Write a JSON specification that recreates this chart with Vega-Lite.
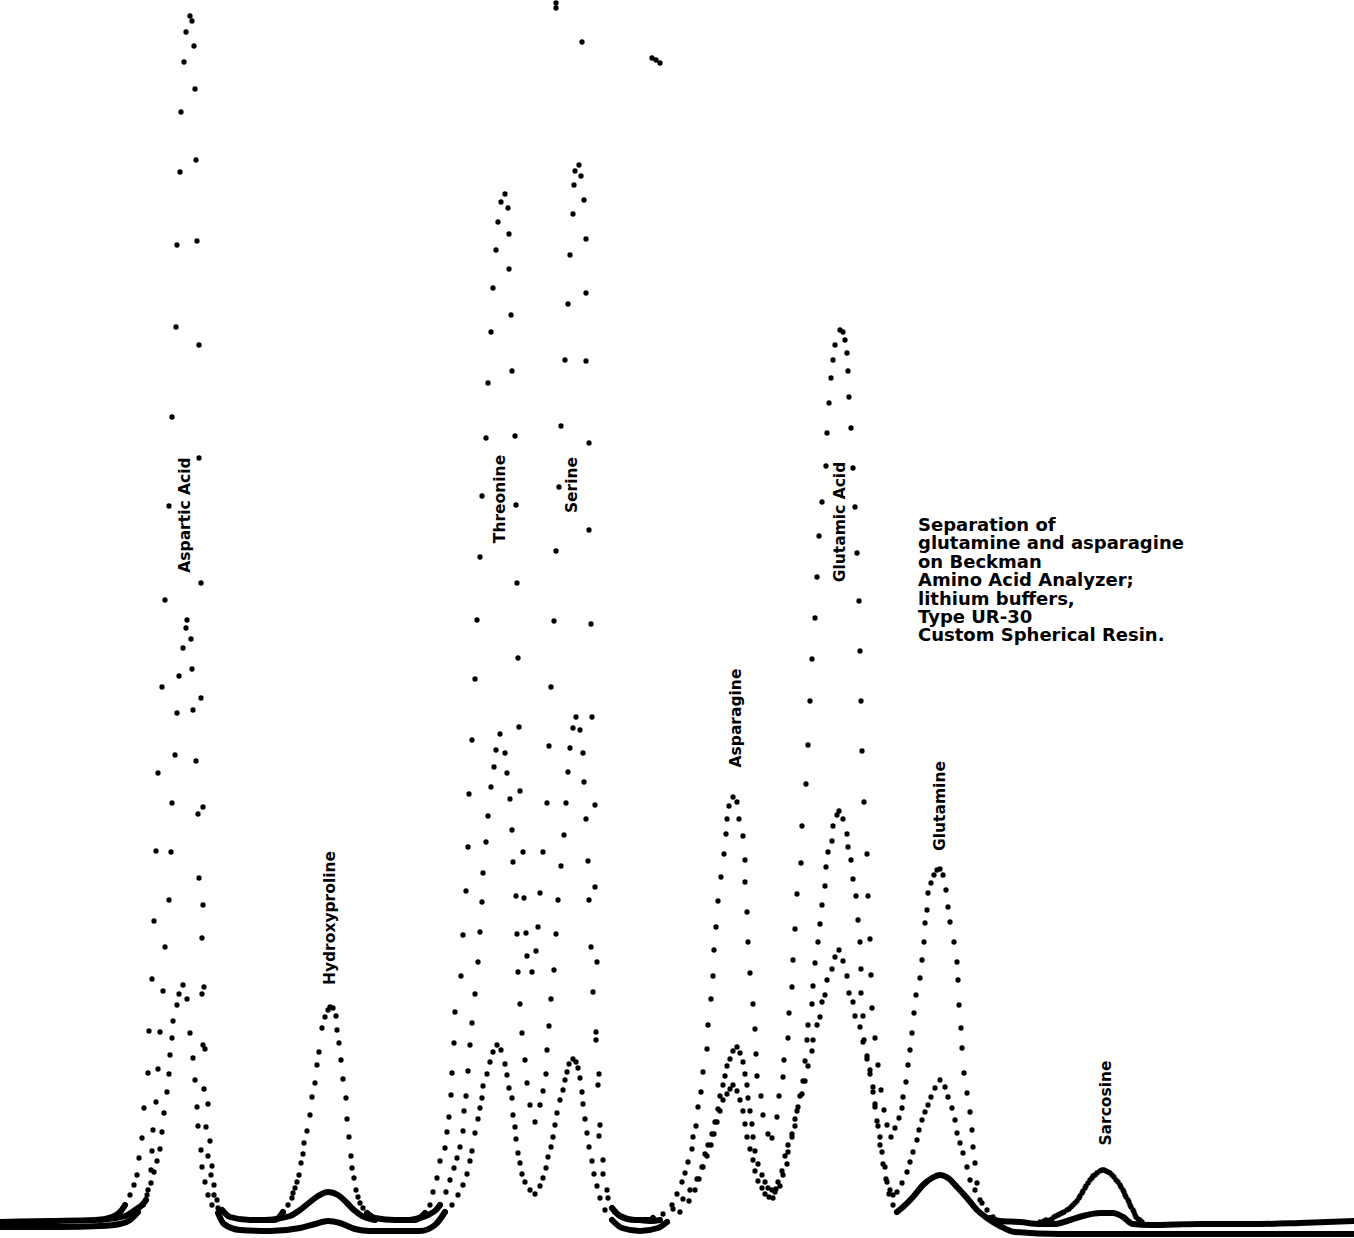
{
  "$schema": "https://vega.github.io/schema/vega-lite/v6.json",
  "width": 1354,
  "height": 1238,
  "autosize": {"type": "fit", "contains": "padding"},
  "padding": 0,
  "background": "white",
  "config": {"view": {"stroke": null}},
  "datasets": {
    "dots": [
      {"s":"A","t":125,"v":15},{"s":"A","t":130,"v":25},{"s":"A","t":134,"v":35},{"s":"A","t":137,"v":45},{"s":"A","t":139,"v":62},{"s":"A","t":142,"v":82},{"s":"A","t":144,"v":112},{"s":"A","t":148,"v":147},{"s":"A","t":149,"v":189},{"s":"A","t":152,"v":241},{"s":"A","t":154,"v":299},{"s":"A","t":156,"v":369},{"s":"A","t":158,"v":447},{"s":"A","t":162,"v":533},{"s":"A","t":165,"v":620},{"s":"A","t":169,"v":714},{"s":"A","t":172,"v":803},{"s":"A","t":176,"v":893},{"s":"A","t":177,"v":975},{"s":"A","t":180,"v":1048},{"s":"A","t":181,"v":1108},{"s":"A","t":184,"v":1158},{"s":"A","t":186,"v":1188},{"s":"A","t":190,"v":1204},{"s":"A","t":192,"v":1199},{"s":"A","t":194,"v":1174},{"s":"A","t":195,"v":1131},{"s":"A","t":196,"v":1060},{"s":"A","t":197,"v":979},{"s":"A","t":199,"v":875},{"s":"A","t":199,"v":762},{"s":"A","t":201,"v":637},{"s":"A","t":201,"v":522},{"s":"A","t":203,"v":413},{"s":"A","t":203,"v":315},{"s":"A","t":204,"v":233},{"s":"A","t":205,"v":171},{"s":"A","t":208,"v":116},{"s":"A","t":210,"v":79},{"s":"A","t":212,"v":54},{"s":"A","t":214,"v":35},{"s":"A","t":217,"v":20},{"s":"A","t":222,"v":10},{"s":"A","t":228,"v":4},
      {"s":"B","t":146,"v":20},{"s":"B","t":148,"v":30},{"s":"B","t":151,"v":50},{"s":"B","t":152,"v":69},{"s":"B","t":153,"v":90},{"s":"B","t":156,"v":118},{"s":"B","t":158,"v":151},{"s":"B","t":160,"v":188},{"s":"B","t":163,"v":229},{"s":"B","t":165,"v":273},{"s":"B","t":169,"v":320},{"s":"B","t":171,"v":368},{"s":"B","t":172,"v":417},{"s":"B","t":175,"v":465},{"s":"B","t":177,"v":507},{"s":"B","t":179,"v":544},{"s":"B","t":183,"v":572},{"s":"B","t":186,"v":592},{"s":"B","t":187,"v":600},{"s":"B","t":191,"v":581},{"s":"B","t":192,"v":551},{"s":"B","t":193,"v":510},{"s":"B","t":196,"v":459},{"s":"B","t":198,"v":406},{"s":"B","t":199,"v":342},{"s":"B","t":202,"v":282},{"s":"B","t":202,"v":226},{"s":"B","t":203,"v":175},{"s":"B","t":204,"v":131},{"s":"B","t":206,"v":93},{"s":"B","t":208,"v":64},{"s":"B","t":211,"v":45},{"s":"B","t":214,"v":25},{"s":"B","t":218,"v":12},
      {"s":"C","t":138,"v":8},{"s":"C","t":143,"v":15},{"s":"C","t":147,"v":25},{"s":"C","t":151,"v":37},{"s":"C","t":154,"v":48},{"s":"C","t":157,"v":59},{"s":"C","t":160,"v":71},{"s":"C","t":162,"v":88},{"s":"C","t":164,"v":107},{"s":"C","t":167,"v":128},{"s":"C","t":169,"v":146},{"s":"C","t":170,"v":165},{"s":"C","t":172,"v":182},{"s":"C","t":173,"v":199},{"s":"C","t":177,"v":215},{"s":"C","t":179,"v":226},{"s":"C","t":183,"v":235},{"s":"C","t":187,"v":221},{"s":"C","t":190,"v":187},{"s":"C","t":193,"v":162},{"s":"C","t":195,"v":140},{"s":"C","t":197,"v":113},{"s":"C","t":198,"v":94},{"s":"C","t":201,"v":70},{"s":"C","t":202,"v":53},{"s":"C","t":205,"v":38},{"s":"C","t":208,"v":25},{"s":"C","t":212,"v":15},{"s":"C","t":218,"v":7},
      {"s":"A","t":283,"v":8},{"s":"A","t":288,"v":15},{"s":"A","t":292,"v":22},{"s":"A","t":293,"v":27},{"s":"A","t":295,"v":32},{"s":"A","t":297,"v":38},{"s":"A","t":299,"v":45},{"s":"A","t":301,"v":57},{"s":"A","t":303,"v":66},{"s":"A","t":304,"v":77},{"s":"A","t":307,"v":89},{"s":"A","t":310,"v":105},{"s":"A","t":312,"v":123},{"s":"A","t":315,"v":137},{"s":"A","t":317,"v":155},{"s":"A","t":319,"v":168},{"s":"A","t":322,"v":192},{"s":"A","t":325,"v":203},{"s":"A","t":328,"v":210},{"s":"A","t":330,"v":213},{"s":"A","t":333,"v":212},{"s":"A","t":336,"v":204},{"s":"A","t":337,"v":190},{"s":"A","t":339,"v":177},{"s":"A","t":341,"v":160},{"s":"A","t":343,"v":141},{"s":"A","t":346,"v":122},{"s":"A","t":347,"v":101},{"s":"A","t":349,"v":83},{"s":"A","t":351,"v":64},{"s":"A","t":352,"v":52},{"s":"A","t":354,"v":42},{"s":"A","t":356,"v":30},{"s":"A","t":358,"v":23},{"s":"A","t":360,"v":17},{"s":"A","t":363,"v":12},{"s":"A","t":367,"v":7},
      {"s":"A","t":425,"v":7},{"s":"A","t":430,"v":15},{"s":"A","t":433,"v":28},{"s":"A","t":437,"v":42},{"s":"A","t":440,"v":59},{"s":"A","t":445,"v":72},{"s":"A","t":447,"v":88},{"s":"A","t":449,"v":103},{"s":"A","t":451,"v":125},{"s":"A","t":452,"v":147},{"s":"A","t":454,"v":177},{"s":"A","t":455,"v":208},{"s":"A","t":461,"v":244},{"s":"A","t":463,"v":285},{"s":"A","t":466,"v":329},{"s":"A","t":468,"v":373},{"s":"A","t":469,"v":426},{"s":"A","t":472,"v":480},{"s":"A","t":475,"v":541},{"s":"A","t":477,"v":600},{"s":"A","t":480,"v":663},{"s":"A","t":482,"v":724},{"s":"A","t":486,"v":782},{"s":"A","t":488,"v":837},{"s":"A","t":491,"v":888},{"s":"A","t":493,"v":932},{"s":"A","t":496,"v":970},{"s":"A","t":498,"v":998},{"s":"A","t":501,"v":1018},{"s":"A","t":505,"v":1026},{"s":"A","t":508,"v":1012},{"s":"A","t":509,"v":986},{"s":"A","t":509,"v":951},{"s":"A","t":511,"v":905},{"s":"A","t":512,"v":849},{"s":"A","t":515,"v":784},{"s":"A","t":516,"v":715},{"s":"A","t":517,"v":637},{"s":"A","t":518,"v":562},{"s":"A","t":519,"v":493},{"s":"A","t":520,"v":429},{"s":"A","t":523,"v":368},{"s":"A","t":524,"v":322},{"s":"A","t":526,"v":287},{"s":"A","t":527,"v":264},{"s":"A","t":532,"v":248},{"s":"A","t":536,"v":269},{"s":"A","t":538,"v":293},{"s":"A","t":540,"v":327},{"s":"A","t":543,"v":368},{"s":"A","t":547,"v":417},{"s":"A","t":549,"v":474},{"s":"A","t":551,"v":533},{"s":"A","t":554,"v":599},{"s":"A","t":556,"v":669},{"s":"A","t":559,"v":733},{"s":"A","t":561,"v":794},{"s":"A","t":565,"v":860},{"s":"A","t":568,"v":916},{"s":"A","t":570,"v":965},{"s":"A","t":573,"v":1006},{"s":"A","t":574,"v":1035},{"s":"A","t":575,"v":1049},{"s":"A","t":579,"v":1055},{"s":"A","t":581,"v":1044},{"s":"A","t":584,"v":1020},{"s":"A","t":586,"v":981},{"s":"A","t":586,"v":927},{"s":"A","t":586,"v":859},{"s":"A","t":589,"v":777},{"s":"A","t":589,"v":690},{"s":"A","t":591,"v":596},{"s":"A","t":592,"v":503},{"s":"A","t":595,"v":415},{"s":"A","t":595,"v":333},{"s":"A","t":597,"v":258},{"s":"A","t":596,"v":188},{"s":"A","t":599,"v":146},{"s":"A","t":599,"v":84},{"s":"A","t":603,"v":46},{"s":"A","t":608,"v":22},{"s":"A","t":615,"v":8},
      {"s":"B","t":440,"v":15},{"s":"B","t":446,"v":28},{"s":"B","t":450,"v":40},{"s":"B","t":454,"v":52},{"s":"B","t":457,"v":62},{"s":"B","t":460,"v":73},{"s":"B","t":463,"v":89},{"s":"B","t":464,"v":109},{"s":"B","t":466,"v":124},{"s":"B","t":468,"v":149},{"s":"B","t":470,"v":175},{"s":"B","t":472,"v":197},{"s":"B","t":475,"v":226},{"s":"B","t":478,"v":258},{"s":"B","t":480,"v":288},{"s":"B","t":482,"v":318},{"s":"B","t":483,"v":347},{"s":"B","t":486,"v":378},{"s":"B","t":488,"v":404},{"s":"B","t":491,"v":433},{"s":"B","t":494,"v":453},{"s":"B","t":496,"v":470},{"s":"B","t":500,"v":486},{"s":"B","t":505,"v":467},{"s":"B","t":507,"v":447},{"s":"B","t":510,"v":421},{"s":"B","t":512,"v":390},{"s":"B","t":513,"v":358},{"s":"B","t":516,"v":324},{"s":"B","t":517,"v":286},{"s":"B","t":518,"v":248},{"s":"B","t":520,"v":216},{"s":"B","t":522,"v":187},{"s":"B","t":525,"v":160},{"s":"B","t":527,"v":137},{"s":"B","t":530,"v":115},{"s":"B","t":535,"v":98},{"s":"B","t":540,"v":115},{"s":"B","t":543,"v":129},{"s":"B","t":546,"v":146},{"s":"B","t":547,"v":170},{"s":"B","t":549,"v":194},{"s":"B","t":551,"v":221},{"s":"B","t":554,"v":250},{"s":"B","t":556,"v":286},{"s":"B","t":558,"v":320},{"s":"B","t":561,"v":354},{"s":"B","t":564,"v":385},{"s":"B","t":566,"v":417},{"s":"B","t":568,"v":448},{"s":"B","t":570,"v":472},{"s":"B","t":573,"v":492},{"s":"B","t":576,"v":503},{"s":"B","t":580,"v":490},{"s":"B","t":583,"v":467},{"s":"B","t":584,"v":438},{"s":"B","t":586,"v":401},{"s":"B","t":588,"v":359},{"s":"B","t":589,"v":320},{"s":"B","t":591,"v":273},{"s":"B","t":593,"v":228},{"s":"B","t":596,"v":180},{"s":"B","t":598,"v":135},{"s":"B","t":600,"v":95},{"s":"B","t":603,"v":60},{"s":"B","t":607,"v":30},{"s":"B","t":612,"v":12},
      {"s":"C","t":445,"v":8},{"s":"C","t":452,"v":15},{"s":"C","t":458,"v":25},{"s":"C","t":463,"v":35},{"s":"C","t":467,"v":46},{"s":"C","t":470,"v":59},{"s":"C","t":472,"v":69},{"s":"C","t":475,"v":87},{"s":"C","t":478,"v":101},{"s":"C","t":480,"v":112},{"s":"C","t":482,"v":122},{"s":"C","t":483,"v":134},{"s":"C","t":487,"v":146},{"s":"C","t":490,"v":158},{"s":"C","t":493,"v":168},{"s":"C","t":497,"v":175},{"s":"C","t":501,"v":170},{"s":"C","t":505,"v":156},{"s":"C","t":507,"v":145},{"s":"C","t":509,"v":132},{"s":"C","t":512,"v":122},{"s":"C","t":513,"v":105},{"s":"C","t":515,"v":93},{"s":"C","t":516,"v":81},{"s":"C","t":518,"v":67},{"s":"C","t":520,"v":57},{"s":"C","t":522,"v":46},{"s":"C","t":525,"v":38},{"s":"C","t":530,"v":30},{"s":"C","t":535,"v":26},{"s":"C","t":540,"v":34},{"s":"C","t":543,"v":42},{"s":"C","t":546,"v":52},{"s":"C","t":548,"v":63},{"s":"C","t":551,"v":73},{"s":"C","t":553,"v":83},{"s":"C","t":555,"v":95},{"s":"C","t":557,"v":107},{"s":"C","t":560,"v":120},{"s":"C","t":563,"v":130},{"s":"C","t":565,"v":140},{"s":"C","t":567,"v":148},{"s":"C","t":569,"v":156},{"s":"C","t":573,"v":161},{"s":"C","t":576,"v":158},{"s":"C","t":578,"v":152},{"s":"C","t":580,"v":142},{"s":"C","t":582,"v":128},{"s":"C","t":583,"v":116},{"s":"C","t":585,"v":101},{"s":"C","t":587,"v":87},{"s":"C","t":589,"v":73},{"s":"C","t":592,"v":59},{"s":"C","t":594,"v":46},{"s":"C","t":597,"v":34},{"s":"C","t":600,"v":22},{"s":"C","t":605,"v":10},{"s":"C","t":612,"v":0},
      {"s":"A","t":653,"v":2},{"s":"A","t":663,"v":6},{"s":"A","t":672,"v":15},{"s":"A","t":677,"v":26},{"s":"A","t":682,"v":38},{"s":"A","t":685,"v":47},{"s":"A","t":688,"v":58},{"s":"A","t":692,"v":71},{"s":"A","t":693,"v":83},{"s":"A","t":696,"v":94},{"s":"A","t":698,"v":113},{"s":"A","t":701,"v":128},{"s":"A","t":703,"v":148},{"s":"A","t":707,"v":171},{"s":"A","t":708,"v":195},{"s":"A","t":711,"v":221},{"s":"A","t":713,"v":244},{"s":"A","t":714,"v":270},{"s":"A","t":716,"v":293},{"s":"A","t":718,"v":319},{"s":"A","t":721,"v":343},{"s":"A","t":724,"v":366},{"s":"A","t":726,"v":386},{"s":"A","t":727,"v":401},{"s":"A","t":729,"v":414},{"s":"A","t":733,"v":423},{"s":"A","t":737,"v":418},{"s":"A","t":739,"v":401},{"s":"A","t":743,"v":384},{"s":"A","t":745,"v":360},{"s":"A","t":745,"v":338},{"s":"A","t":747,"v":308},{"s":"A","t":748,"v":278},{"s":"A","t":750,"v":247},{"s":"A","t":753,"v":216},{"s":"A","t":755,"v":191},{"s":"A","t":756,"v":166},{"s":"A","t":757,"v":144},{"s":"A","t":761,"v":124},{"s":"A","t":763,"v":105},{"s":"A","t":768,"v":86},{"s":"A","t":772,"v":82},{"s":"A","t":777,"v":103},{"s":"A","t":779,"v":124},{"s":"A","t":783,"v":143},{"s":"A","t":784,"v":160},{"s":"A","t":788,"v":182},{"s":"A","t":789,"v":207},{"s":"A","t":792,"v":233},{"s":"A","t":793,"v":260},{"s":"A","t":795,"v":291},{"s":"A","t":797,"v":326},{"s":"A","t":801,"v":357},{"s":"A","t":802,"v":394},{"s":"A","t":806,"v":436},{"s":"A","t":808,"v":475},{"s":"A","t":810,"v":519},{"s":"A","t":812,"v":561},{"s":"A","t":815,"v":602},{"s":"A","t":817,"v":643},{"s":"A","t":819,"v":684},{"s":"A","t":822,"v":718},{"s":"A","t":826,"v":754},{"s":"A","t":827,"v":787},{"s":"A","t":829,"v":817},{"s":"A","t":831,"v":842},{"s":"A","t":833,"v":860},{"s":"A","t":835,"v":875},{"s":"A","t":840,"v":890},{"s":"A","t":843,"v":888},{"s":"A","t":845,"v":880},{"s":"A","t":847,"v":867},{"s":"A","t":848,"v":849},{"s":"A","t":849,"v":823},{"s":"A","t":851,"v":792},{"s":"A","t":853,"v":752},{"s":"A","t":855,"v":713},{"s":"A","t":857,"v":667},{"s":"A","t":859,"v":619},{"s":"A","t":860,"v":569},{"s":"A","t":861,"v":519},{"s":"A","t":862,"v":469},{"s":"A","t":864,"v":418},{"s":"A","t":867,"v":366},{"s":"A","t":868,"v":324},{"s":"A","t":870,"v":281},{"s":"A","t":871,"v":245},{"s":"A","t":872,"v":212},{"s":"A","t":875,"v":182},{"s":"A","t":878,"v":155},{"s":"A","t":881,"v":130},{"s":"A","t":884,"v":110},{"s":"A","t":887,"v":95},{"s":"A","t":891,"v":83},{"s":"A","t":895,"v":92},{"s":"A","t":899,"v":102},{"s":"A","t":902,"v":112},{"s":"A","t":903,"v":123},{"s":"A","t":906,"v":138},{"s":"A","t":908,"v":155},{"s":"A","t":910,"v":170},{"s":"A","t":912,"v":187},{"s":"A","t":914,"v":207},{"s":"A","t":916,"v":225},{"s":"A","t":920,"v":242},{"s":"A","t":922,"v":260},{"s":"A","t":924,"v":278},{"s":"A","t":925,"v":297},{"s":"A","t":927,"v":310},{"s":"A","t":928,"v":327},{"s":"A","t":931,"v":337},{"s":"A","t":934,"v":345},{"s":"A","t":937,"v":350},{"s":"A","t":940,"v":351},{"s":"A","t":943,"v":345},{"s":"A","t":946,"v":330},{"s":"A","t":948,"v":313},{"s":"A","t":950,"v":298},{"s":"A","t":954,"v":278},{"s":"A","t":957,"v":258},{"s":"A","t":958,"v":240},{"s":"A","t":959,"v":215},{"s":"A","t":961,"v":192},{"s":"A","t":962,"v":172},{"s":"A","t":964,"v":147},{"s":"A","t":967,"v":127},{"s":"A","t":970,"v":108},{"s":"A","t":972,"v":90},{"s":"A","t":973,"v":73},{"s":"A","t":975,"v":57},{"s":"A","t":977,"v":37},{"s":"A","t":982,"v":17},{"s":"A","t":990,"v":2},
      {"s":"B","t":660,"v":0},{"s":"B","t":673,"v":11},{"s":"B","t":683,"v":21},{"s":"B","t":690,"v":30},{"s":"B","t":697,"v":41},{"s":"B","t":702,"v":53},{"s":"B","t":705,"v":66},{"s":"B","t":708,"v":75},{"s":"B","t":712,"v":86},{"s":"B","t":715,"v":98},{"s":"B","t":718,"v":111},{"s":"B","t":720,"v":124},{"s":"B","t":723,"v":135},{"s":"B","t":725,"v":144},{"s":"B","t":727,"v":154},{"s":"B","t":730,"v":161},{"s":"B","t":733,"v":169},{"s":"B","t":737,"v":173},{"s":"B","t":740,"v":167},{"s":"B","t":743,"v":158},{"s":"B","t":745,"v":146},{"s":"B","t":747,"v":135},{"s":"B","t":748,"v":122},{"s":"B","t":750,"v":109},{"s":"B","t":752,"v":96},{"s":"B","t":753,"v":83},{"s":"B","t":755,"v":69},{"s":"B","t":758,"v":56},{"s":"B","t":762,"v":45},{"s":"B","t":765,"v":38},{"s":"B","t":768,"v":32},{"s":"B","t":772,"v":30},{"s":"B","t":776,"v":31},{"s":"B","t":780,"v":34},{"s":"B","t":783,"v":45},{"s":"B","t":787,"v":56},{"s":"B","t":788,"v":68},{"s":"B","t":792,"v":83},{"s":"B","t":795,"v":94},{"s":"B","t":797,"v":109},{"s":"B","t":800,"v":124},{"s":"B","t":803,"v":139},{"s":"B","t":805,"v":159},{"s":"B","t":807,"v":180},{"s":"B","t":808,"v":195},{"s":"B","t":812,"v":216},{"s":"B","t":813,"v":234},{"s":"B","t":815,"v":257},{"s":"B","t":818,"v":278},{"s":"B","t":820,"v":296},{"s":"B","t":822,"v":315},{"s":"B","t":825,"v":334},{"s":"B","t":826,"v":353},{"s":"B","t":828,"v":368},{"s":"B","t":832,"v":379},{"s":"B","t":833,"v":394},{"s":"B","t":837,"v":405},{"s":"B","t":839,"v":409},{"s":"B","t":843,"v":401},{"s":"B","t":847,"v":386},{"s":"B","t":848,"v":373},{"s":"B","t":851,"v":360},{"s":"B","t":853,"v":341},{"s":"B","t":856,"v":324},{"s":"B","t":858,"v":300},{"s":"B","t":860,"v":278},{"s":"B","t":861,"v":251},{"s":"B","t":861,"v":227},{"s":"B","t":863,"v":204},{"s":"B","t":864,"v":180},{"s":"B","t":867,"v":164},{"s":"B","t":870,"v":150},{"s":"B","t":873,"v":133},{"s":"B","t":875,"v":116},{"s":"B","t":877,"v":99},{"s":"B","t":880,"v":83},{"s":"B","t":882,"v":68},{"s":"B","t":885,"v":53},{"s":"B","t":887,"v":38},{"s":"B","t":890,"v":30},{"s":"B","t":893,"v":25},{"s":"B","t":897,"v":28},{"s":"B","t":902,"v":37},{"s":"B","t":907,"v":48},{"s":"B","t":910,"v":58},{"s":"B","t":913,"v":68},{"s":"B","t":917,"v":80},{"s":"B","t":919,"v":90},{"s":"B","t":922,"v":100},{"s":"B","t":925,"v":108},{"s":"B","t":928,"v":115},{"s":"B","t":931,"v":123},{"s":"B","t":935,"v":132},{"s":"B","t":940,"v":140},{"s":"B","t":945,"v":133},{"s":"B","t":948,"v":123},{"s":"B","t":952,"v":112},{"s":"B","t":955,"v":100},{"s":"B","t":957,"v":87},{"s":"B","t":960,"v":77},{"s":"B","t":963,"v":67},{"s":"B","t":967,"v":53},{"s":"B","t":970,"v":40},{"s":"B","t":975,"v":30},{"s":"B","t":980,"v":20},{"s":"B","t":987,"v":10},{"s":"B","t":993,"v":3},
      {"s":"C","t":667,"v":-2},{"s":"C","t":680,"v":8},{"s":"C","t":689,"v":19},{"s":"C","t":695,"v":30},{"s":"C","t":699,"v":41},{"s":"C","t":703,"v":53},{"s":"C","t":707,"v":64},{"s":"C","t":711,"v":75},{"s":"C","t":714,"v":86},{"s":"C","t":717,"v":98},{"s":"C","t":720,"v":109},{"s":"C","t":723,"v":120},{"s":"C","t":727,"v":126},{"s":"C","t":730,"v":131},{"s":"C","t":733,"v":135},{"s":"C","t":737,"v":129},{"s":"C","t":740,"v":120},{"s":"C","t":743,"v":109},{"s":"C","t":745,"v":96},{"s":"C","t":747,"v":83},{"s":"C","t":750,"v":71},{"s":"C","t":753,"v":60},{"s":"C","t":755,"v":49},{"s":"C","t":758,"v":39},{"s":"C","t":762,"v":32},{"s":"C","t":765,"v":26},{"s":"C","t":769,"v":23},{"s":"C","t":773,"v":22},{"s":"C","t":775,"v":28},{"s":"C","t":778,"v":38},{"s":"C","t":782,"v":49},{"s":"C","t":785,"v":64},{"s":"C","t":788,"v":75},{"s":"C","t":792,"v":86},{"s":"C","t":795,"v":101},{"s":"C","t":798,"v":113},{"s":"C","t":802,"v":126},{"s":"C","t":805,"v":139},{"s":"C","t":808,"v":154},{"s":"C","t":812,"v":169},{"s":"C","t":813,"v":180},{"s":"C","t":817,"v":195},{"s":"C","t":820,"v":203},{"s":"C","t":822,"v":218},{"s":"C","t":825,"v":225},{"s":"C","t":827,"v":240},{"s":"C","t":832,"v":251},{"s":"C","t":835,"v":263},{"s":"C","t":839,"v":270},{"s":"C","t":843,"v":259},{"s":"C","t":847,"v":244},{"s":"C","t":849,"v":227},{"s":"C","t":853,"v":218},{"s":"C","t":855,"v":204},{"s":"C","t":860,"v":193},{"s":"C","t":863,"v":178},{"s":"C","t":867,"v":161},{"s":"C","t":870,"v":146},{"s":"C","t":873,"v":128},{"s":"C","t":875,"v":113},{"s":"C","t":878,"v":94},{"s":"C","t":880,"v":75},{"s":"C","t":883,"v":56},{"s":"C","t":886,"v":41},{"s":"C","t":889,"v":26},{"s":"C","t":893,"v":15},{"s":"C","t":897,"v":8},
      {"s":"A","t":1040,"v":-2},{"s":"A","t":1044,"v":-1},{"s":"A","t":1046,"v":0},{"s":"A","t":1050,"v":0},{"s":"A","t":1052,"v":1},{"s":"A","t":1054,"v":3},{"s":"A","t":1056,"v":4},{"s":"A","t":1058,"v":5},{"s":"A","t":1060,"v":6},{"s":"A","t":1062,"v":7},{"s":"A","t":1064,"v":8},{"s":"A","t":1067,"v":10},{"s":"A","t":1069,"v":11},{"s":"A","t":1071,"v":13},{"s":"A","t":1073,"v":15},{"s":"A","t":1075,"v":17},{"s":"A","t":1077,"v":19},{"s":"A","t":1079,"v":22},{"s":"A","t":1080,"v":24},{"s":"A","t":1082,"v":27},{"s":"A","t":1083,"v":29},{"s":"A","t":1085,"v":32},{"s":"A","t":1086,"v":34},{"s":"A","t":1088,"v":37},{"s":"A","t":1090,"v":40},{"s":"A","t":1092,"v":42},{"s":"A","t":1093,"v":44},{"s":"A","t":1095,"v":45},{"s":"A","t":1097,"v":47},{"s":"A","t":1100,"v":49},{"s":"A","t":1102,"v":50},{"s":"A","t":1104,"v":50},{"s":"A","t":1106,"v":49},{"s":"A","t":1108,"v":48},{"s":"A","t":1110,"v":47},{"s":"A","t":1112,"v":45},{"s":"A","t":1114,"v":43},{"s":"A","t":1116,"v":40},{"s":"A","t":1118,"v":38},{"s":"A","t":1120,"v":35},{"s":"A","t":1121,"v":33},{"s":"A","t":1123,"v":30},{"s":"A","t":1124,"v":28},{"s":"A","t":1125,"v":25},{"s":"A","t":1126,"v":23},{"s":"A","t":1128,"v":20},{"s":"A","t":1129,"v":18},{"s":"A","t":1130,"v":15},{"s":"A","t":1131,"v":13},{"s":"A","t":1133,"v":10},{"s":"A","t":1134,"v":8},{"s":"A","t":1135,"v":5},{"s":"A","t":1136,"v":3},{"s":"A","t":1138,"v":1},{"s":"A","t":1140,"v":0},{"s":"A","t":1142,"v":-2},
      {"s":"x","t":556,"v":1217},{"s":"x","t":556,"v":1212},{"s":"x","t":582,"v":1178},{"s":"x","t":652,"v":1162},{"s":"x","t":656,"v":1160},{"s":"x","t":660,"v":1157}
    ],
    "bands": [
      {"seg":"U1","t":0,"v":-2},{"seg":"U1","t":50,"v":-1},{"seg":"U1","t":95,"v":0},{"seg":"U1","t":112,"v":3},{"seg":"U1","t":120,"v":8},{"seg":"U1","t":125,"v":15},
      {"seg":"U1b","t":100,"v":0},{"seg":"U1b","t":125,"v":4},{"seg":"U1b","t":135,"v":10},{"seg":"U1b","t":143,"v":16},{"seg":"U1b","t":146,"v":20},
      {"seg":"L1","t":0,"v":-7},{"seg":"L1","t":60,"v":-7},{"seg":"L1","t":100,"v":-6},{"seg":"L1","t":120,"v":-4},{"seg":"L1","t":130,"v":0},{"seg":"L1","t":138,"v":8},
      {"seg":"U2","t":222,"v":10},{"seg":"U2","t":230,"v":3},{"seg":"U2","t":250,"v":0},{"seg":"U2","t":275,"v":0},{"seg":"U2","t":283,"v":8},
      {"seg":"HB","t":265,"v":0},{"seg":"HB","t":290,"v":4},{"seg":"HB","t":300,"v":10},{"seg":"HB","t":310,"v":18},{"seg":"HB","t":318,"v":24},{"seg":"HB","t":328,"v":28},{"seg":"HB","t":338,"v":25},{"seg":"HB","t":346,"v":18},{"seg":"HB","t":354,"v":10},{"seg":"HB","t":362,"v":4},{"seg":"HB","t":375,"v":0},
      {"seg":"U3","t":367,"v":7},{"seg":"U3","t":375,"v":2},{"seg":"U3","t":395,"v":0},{"seg":"U3","t":415,"v":0},{"seg":"U3","t":422,"v":4},{"seg":"U3","t":425,"v":7},
      {"seg":"U3b","t":410,"v":0},{"seg":"U3b","t":428,"v":5},{"seg":"U3b","t":436,"v":10},{"seg":"U3b","t":440,"v":15},
      {"seg":"L2","t":218,"v":7},{"seg":"L2","t":224,"v":-4},{"seg":"L2","t":240,"v":-10},{"seg":"L2","t":270,"v":-11},{"seg":"L2","t":300,"v":-8},{"seg":"L2","t":315,"v":-4},{"seg":"L2","t":328,"v":-1},{"seg":"L2","t":340,"v":-3},{"seg":"L2","t":355,"v":-9},{"seg":"L2","t":370,"v":-11},{"seg":"L2","t":420,"v":-11},{"seg":"L2","t":435,"v":-5},{"seg":"L2","t":445,"v":8},
      {"seg":"U4","t":612,"v":12},{"seg":"U4","t":620,"v":4},{"seg":"U4","t":635,"v":0},{"seg":"U4","t":650,"v":0},{"seg":"U4","t":653,"v":2},
      {"seg":"U4b","t":640,"v":0},{"seg":"U4b","t":652,"v":-1},{"seg":"U4b","t":660,"v":0},
      {"seg":"L3","t":612,"v":0},{"seg":"L3","t":622,"v":-8},{"seg":"L3","t":640,"v":-11},{"seg":"L3","t":658,"v":-8},{"seg":"L3","t":667,"v":-2},
      {"seg":"L4","t":897,"v":8},{"seg":"L4","t":903,"v":13},{"seg":"L4","t":913,"v":23},{"seg":"L4","t":923,"v":35},{"seg":"L4","t":932,"v":42},{"seg":"L4","t":940,"v":45},{"seg":"L4","t":948,"v":42},{"seg":"L4","t":957,"v":33},{"seg":"L4","t":967,"v":22},{"seg":"L4","t":977,"v":10},{"seg":"L4","t":987,"v":2},{"seg":"L4","t":1000,"v":-6},{"seg":"L4","t":1015,"v":-12},{"seg":"L4","t":1060,"v":-14},{"seg":"L4","t":1200,"v":-14},{"seg":"L4","t":1354,"v":-14},
      {"seg":"U5","t":990,"v":2},{"seg":"U5","t":1000,"v":-1},{"seg":"U5","t":1020,"v":-2},{"seg":"U5","t":1040,"v":-4},{"seg":"U5","t":1055,"v":-4},{"seg":"U5","t":1067,"v":-1},{"seg":"U5","t":1083,"v":4},{"seg":"U5","t":1100,"v":7},{"seg":"U5","t":1113,"v":7},{"seg":"U5","t":1123,"v":3},{"seg":"U5","t":1133,"v":-4},{"seg":"U5","t":1150,"v":-5},{"seg":"U5","t":1200,"v":-4},{"seg":"U5","t":1260,"v":-4},{"seg":"U5","t":1300,"v":-3},{"seg":"U5","t":1354,"v":-1}
    ],
    "labels": [
      {"name":"Aspartic Acid","t":185,"v":705},
      {"name":"Hydroxyproline","t":330,"v":302},
      {"name":"Threonine","t":500,"v":721},
      {"name":"Serine","t":572,"v":735},
      {"name":"Asparagine","t":736,"v":502},
      {"name":"Glutamic Acid","t":840,"v":698},
      {"name":"Glutamine","t":940,"v":414},
      {"name":"Sarcosine","t":1106,"v":117}
    ],
    "note": [
      {"t":918,"v":689,"lines":["Separation of","glutamine and asparagine","on Beckman","Amino Acid Analyzer;","lithium buffers,","Type UR-30","Custom Spherical Resin."]}
    ]
  },
  "encoding": {
    "x": {"field":"t","type":"quantitative","scale":{"domain":[0,1354],"nice":false,"zero":false},"axis":null},
    "y": {"field":"v","type":"quantitative","scale":{"domain":[-18,1220],"nice":false,"zero":false},"axis":null}
  },
  "layer": [
    {
      "data": {"name":"bands"},
      "mark": {"type":"line","color":"black","strokeWidth":6,"strokeCap":"round","strokeJoin":"round","interpolate":"monotone","clip":true},
      "encoding": {"detail":{"field":"seg","type":"nominal"}}
    },
    {
      "data": {"name":"dots"},
      "mark": {"type":"circle","color":"black","size":28,"opacity":1,"clip":true},
      "encoding": {}
    },
    {
      "data": {"name":"labels"},
      "mark": {"type":"text","angle":270,"font":"DejaVu Sans","fontWeight":"bold","fontSize":15.5,"align":"center","baseline":"middle","color":"black"},
      "encoding": {"text":{"field":"name","type":"nominal"}}
    },
    {
      "data": {"name":"note"},
      "mark": {"type":"text","align":"left","baseline":"alphabetic","font":"DejaVu Sans","fontWeight":"bold","fontSize":18,"lineHeight":18.4,"color":"black"},
      "encoding": {"text":{"field":"lines","type":"nominal"}}
    }
  ]
}
